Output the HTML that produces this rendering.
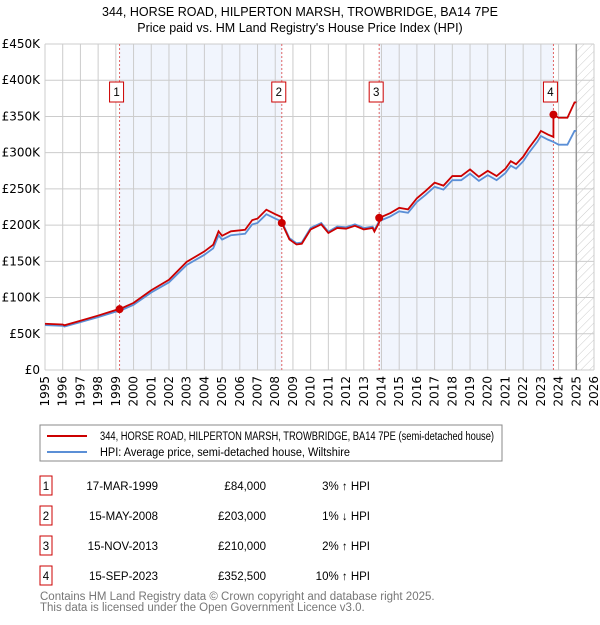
<!DOCTYPE html>
<html><head><meta charset="utf-8"><style>
body{margin:0;background:#fff;font-family:"Liberation Sans","DejaVu Sans",sans-serif;}
svg text{font-family:"Liberation Sans","DejaVu Sans",sans-serif;}
svg text.dv{font-family:"DejaVu Sans","Liberation Sans",sans-serif;}
</style></head><body>
<svg id="chart" width="600" height="620" viewBox="0 0 600 620" xmlns="http://www.w3.org/2000/svg">
<defs><pattern id="hatch" patternUnits="userSpaceOnUse" width="6" height="6" patternTransform="rotate(45)"><line x1="0" y1="0" x2="0" y2="6" stroke="#ccc" stroke-width="1"/></pattern></defs>
<text x="300" y="16" text-anchor="middle" font-size="12.5">344, HORSE ROAD, HILPERTON MARSH, TROWBRIDGE, BA14 7PE</text>
<text x="300" y="32" text-anchor="middle" font-size="12.5">Price paid vs. HM Land Registry's House Price Index (HPI)</text>
<g id="plot"></g>
<g>
<rect x="40" y="425" width="462" height="36" fill="#fff" stroke="#888"/>
<line x1="47" y1="436" x2="87" y2="436" stroke="#cc0000" stroke-width="2"/>
<text x="100" y="440" font-size="11.5" textLength="394" lengthAdjust="spacingAndGlyphs">344, HORSE ROAD, HILPERTON MARSH, TROWBRIDGE, BA14 7PE (semi-detached house)</text>
<line x1="47" y1="452" x2="87" y2="452" stroke="#5b8fd6" stroke-width="2"/>
<text x="100" y="456" font-size="11.5" textLength="250" lengthAdjust="spacingAndGlyphs">HPI: Average price, semi-detached house, Wiltshire</text>
</g>
<g id="table"></g>
<text x="40" y="600" font-size="11.5" fill="#777">Contains HM Land Registry data © Crown copyright and database right 2025.</text>
<text x="40" y="611" font-size="11.5" fill="#777">This data is licensed under the Open Government Licence v3.0.</text>
</svg>
<script>
const hpiYears=[1995,1996,1996.1,1997,1998,1999,1999.2,2000,2001,2002,2003,2004,2004.5,2004.8,2005,2005.5,2006.3,2006.7,2007,2007.5,2008,2008.37,2008.8,2009.2,2009.5,2010,2010.6,2011,2011.5,2012,2012.5,2013,2013.5,2013.6,2013.87,2014.5,2015,2015.5,2016,2016.5,2017,2017.5,2018,2018.5,2019,2019.5,2020,2020.5,2021,2021.3,2021.6,2022,2022.3,2022.8,2023,2023.4,2023.7,2024,2024.5,2024.9,2025];
const hpiValues=[62,61,60,66,73,80.5,81.5,90,107,121,145,159,168,186,180,186,188,201,203,215,209,205,182,175,176,196,203,191,198,197,201,196,198,193,205.5,212,219,217,232,242,253,249,262,262,271,261,269,262,272,282,278,288,299,315,323,318,315,311,311,330,330];
const saleLabels=["1","2","3","4"];
const saleYears=[1999.21,2008.37,2013.87,2023.71];
const saleValues=[84,203,210,352.5];
const saleDates=["17-MAR-1999","15-MAY-2008","15-NOV-2013","15-SEP-2023"];
const salePrices=["£84,000","£203,000","£210,000","£352,500"];
const saleDiffs=["3% \u2191 HPI","1% \u2193 HPI","2% \u2191 HPI","10% \u2191 HPI"];
const yTicks=[0,50,100,150,200,250,300,350,400,450];
const yTickLabels=["£0","£50K","£100K","£150K","£200K","£250K","£300K","£350K","£400K","£450K"];
const xTicks=[1995,1996,1997,1998,1999,2000,2001,2002,2003,2004,2005,2006,2007,2008,2009,2010,2011,2012,2013,2014,2015,2016,2017,2018,2019,2020,2021,2022,2023,2024,2025,2026];

const X0=45,X1=594,Y0=370,Y1=44;
const xs=y=>X0+(y-1995)/(2026-1995)*(X1-X0);
const ys=v=>Y0-v/450*(Y0-Y1);
const NS="http://www.w3.org/2000/svg";
const plot=document.getElementById('plot');
function mk(tag,attrs,parent){const e=document.createElementNS(NS,tag);for(const k in attrs)e.setAttribute(k,attrs[k]);(parent||plot).appendChild(e);return e;}

for(let i=0;i<saleYears.length;i+=2){
  const r=mk('rect',{x:xs(saleYears[i]),y:Y1,width:xs(saleYears[i+1])-xs(saleYears[i]),height:Y0-Y1,fill:'#eef3fc',opacity:0.8});
  
  
}
const hz=mk('rect',{x:xs(2025),y:Y1,width:X1-xs(2025),height:Y0-Y1,fill:'url(#hatch)'});


yTicks.forEach((t,i)=>{
  const l=mk('line',{x1:X0,x2:X1,y1:ys(t),y2:ys(t),stroke:'#ccc'});
  
  
  const tx=mk('text',{x:X0-5,y:ys(t)+4,'text-anchor':'end','font-size':12,'class':'dv'});
  
  
  tx.textContent=yTickLabels[i];
});
xTicks.forEach(t=>{
  const l=mk('line',{x1:xs(t),x2:xs(t),y1:Y1,y2:Y0,stroke:'#ccc'});
  
  
  const tx=mk('text',{x:0,y:0,'text-anchor':'end','font-size':12,'class':'dv',transform:`translate(${xs(t)+4},${Y0+6}) rotate(-90)`});
  
  
  tx.textContent=t;
});
const fl=mk('line',{x1:xs(2025),x2:xs(2025),y1:Y1,y2:Y0,stroke:'#999','stroke-width':1.5});


saleYears.forEach(y=>{
  const l=mk('line',{x1:xs(y),x2:xs(y),y1:Y1,y2:Y0,stroke:'#e06666','stroke-dasharray':'2,2','stroke-width':1});
  
  
});
const hp=mk('polyline',{points:hpiYears.map((y,i)=>xs(y)+','+ys(hpiValues[i])).join(' '),fill:'none',stroke:'#5b8fd6','stroke-width':1.8});


function hpiAt(y){for(let i=1;i<hpiYears.length;i++){if(y<=hpiYears[i]){const f=(y-hpiYears[i-1])/(hpiYears[i]-hpiYears[i-1]);return hpiValues[i-1]+f*(hpiValues[i]-hpiValues[i-1]);}}return hpiValues[hpiValues.length-1];}
const ratios=saleYears.map((y,i)=>saleValues[i]/hpiAt(y));
const pts=[];
hpiYears.forEach((y,i)=>{
  let s=0;for(let k=0;k<saleYears.length;k++)if(y>=saleYears[k])s=k;
  pts.push([y,hpiValues[i]*ratios[s]]);
});
saleYears.forEach((y,k)=>{if(k>0)pts.push([y-0.001,hpiAt(y)*ratios[k-1]]);pts.push([y,saleValues[k]]);});
pts.sort((a,b)=>a[0]-b[0]);
const pl=mk('polyline',{points:pts.map(p=>xs(p[0])+','+ys(p[1])).join(' '),fill:'none',stroke:'#cc0000','stroke-width':1.8});


saleYears.forEach((y,i)=>{
  const c=mk('circle',{cx:xs(y),cy:ys(saleValues[i]),r:4,fill:'#cc0000'});
  
  
  const bx=xs(y)-10;
  const r=mk('rect',{x:bx,y:82,width:14,height:20,fill:'#fff',stroke:'#cc0000'});
  
  
  const t=mk('text',{x:bx+7,y:96,'text-anchor':'middle','font-size':11.5});
  
  
  t.textContent=saleLabels[i];
});
const tb=document.getElementById('table');
saleLabels.forEach((s,i)=>{
  const yy=476+i*30;
  const r=mk('rect',{x:40,y:yy,width:12,height:19,fill:'#fff',stroke:'#cc0000'},tb);
  
  
  const cells=[[s,46,'middle'],[saleDates[i],158,'end'],[salePrices[i],266,'end'],[saleDiffs[i],370,'end']];
  cells.forEach(c=>{
    const t=mk('text',{x:c[1],y:yy+14,'text-anchor':c[2],'font-size':11.5},tb);
    
    
    t.textContent=c[0];
  });
});
</script>
</body></html>
